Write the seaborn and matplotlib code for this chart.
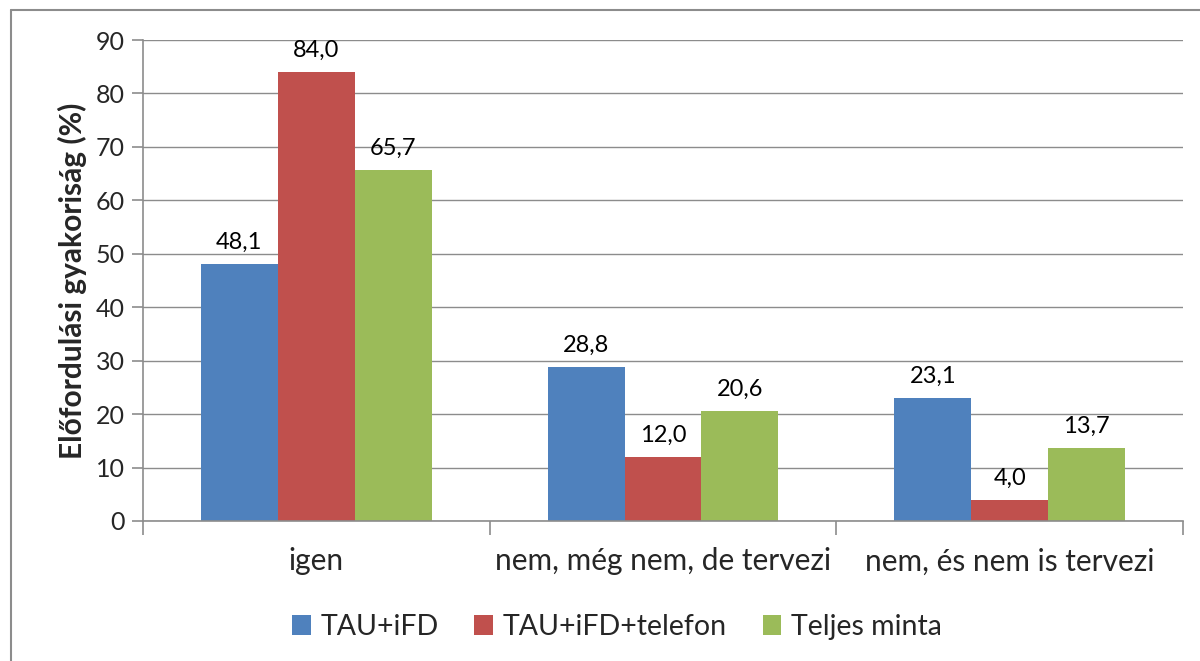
import matplotlib
matplotlib.use("Agg")
import matplotlib.pyplot as plt
import seaborn as sns
import pandas as pd
from matplotlib.lines import Line2D

categories = ["igen", "nem, még nem, de tervezi", "nem, és nem is tervezi"]
series_names = ["TAU+iFD", "TAU+iFD+telefon", "Teljes minta"]
tau_ifd = [48.1, 28.8, 23.1]
tau_ifd_tel = [84.0, 12.0, 4.0]
teljes = [65.7, 20.6, 13.7]
colors = ["#4F81BD", "#C0504D", "#9BBB59"]

rows = []
for name, vals in zip(series_names, [tau_ifd, tau_ifd_tel, teljes]):
    for c, v in zip(categories, vals):
        rows.append({"cat": c, "series": name, "val": v})
df = pd.DataFrame(rows)

sns.set_theme(style="white")
plt.rcParams["font.family"] = ["Lato", "DejaVu Sans"]

fig = plt.figure(figsize=(12, 6.61), dpi=100)
ax = fig.add_axes([143/1200, 1-521/661, (1183-143)/1200, (521-40)/661])

sns.barplot(data=df, x="cat", y="val", hue="series", order=categories,
            hue_order=series_names, palette=colors, width=0.666,
            saturation=1, ax=ax, legend=True, errorbar=None, linewidth=0)

for cont in ax.containers:
    ax.bar_label(cont, labels=[f"{v:.1f}".replace(".", ",") for v in cont.datavalues],
                 padding=8, fontsize=17, color="#000000")

ax.set_ylim(0, 90)
ax.set_xlim(-0.5, 2.5)
ax.set_yticks(range(0, 91, 10))
ax.yaxis.grid(True, color="#8c8c8c", linewidth=1)
ax.set_axisbelow(True)
for s in ["top", "right"]:
    ax.spines[s].set_visible(False)
for s in ["left", "bottom"]:
    ax.spines[s].set_color("#8c8c8c")
    ax.spines[s].set_linewidth(1.2)

ax.tick_params(axis="y", which="major", length=8, width=1.2, color="#8c8c8c",
               labelsize=18, pad=5, left=True)
ax.set_xticks([-0.5, 0.5, 1.5, 2.5], minor=True)
ax.tick_params(axis="x", which="minor", length=10, width=1.2, color="#8c8c8c", bottom=True)
ax.tick_params(axis="x", which="major", length=0, labelsize=21.5, pad=19)
ax.set_xlabel("")
ax.set_ylabel("Előfordulási gyakoriság (%)", fontsize=21.5, fontweight="bold", labelpad=6)

leg = ax.legend(loc="center", bbox_to_anchor=(617/1200, 1-627/661),
                bbox_transform=fig.transFigure, ncol=3, frameon=False,
                fontsize=20.5, handlelength=0.65, handleheight=0.65,
                columnspacing=1.25, handletextpad=0.35)

# outer border (top & left visible)
fig.add_artist(Line2D([11/1200, 11/1200], [0, 1-10/661], transform=fig.transFigure,
                      color="#8c8c8c", linewidth=1.5))
fig.add_artist(Line2D([11/1200, 1], [1-10/661, 1-10/661], transform=fig.transFigure,
                      color="#8c8c8c", linewidth=1.5))

fig.savefig("out.png", dpi=100)
